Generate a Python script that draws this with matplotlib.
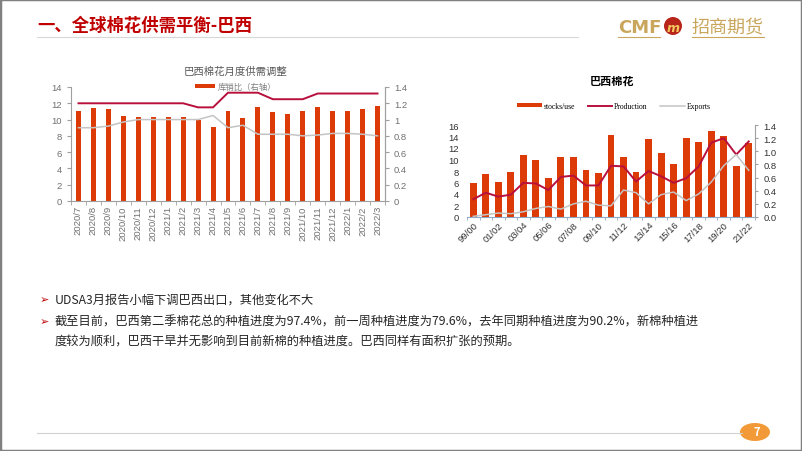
import matplotlib
matplotlib.use("Agg")
import matplotlib.pyplot as plt
from matplotlib.patches import Rectangle, Ellipse
from matplotlib.lines import Line2D
from matplotlib.ticker import FormatStrFormatter

plt.rcParams['font.family'] = ['Noto Sans CJK SC', 'DejaVu Sans']

# ---- left chart: monthly supply/demand adjustment
months = ['2020/7', '2020/8', '2020/9', '2020/10', '2020/11', '2020/12',
          '2021/1', '2021/2', '2021/3', '2021/4', '2021/5', '2021/6',
          '2021/7', '2021/8', '2021/9', '2021/10', '2021/11', '2021/12',
          '2022/1', '2022/2', '2022/3']
monthly_bars = [11.0, 11.4, 11.3, 10.5, 10.3, 10.3, 10.3, 10.3, 9.9, 9.1, 11.0,
                10.2, 11.5, 10.9, 10.7, 11.1, 11.5, 11.1, 11.1, 11.3, 11.7]
monthly_red = [1.2, 1.2, 1.2, 1.2, 1.2, 1.2, 1.2, 1.2, 1.15, 1.15, 1.33,
               1.33, 1.33, 1.25, 1.25, 1.25, 1.32, 1.32, 1.32, 1.32, 1.32]
monthly_gray = [0.9, 0.9, 0.92, 0.97, 1.0, 1.0, 1.0, 1.0, 1.0, 1.05, 0.9,
                0.93, 0.82, 0.82, 0.82, 0.8, 0.81, 0.83, 0.83, 0.82, 0.8]

# ---- right chart: seasonal history
seasons = ['99/00', '00/01', '01/02', '02/03', '03/04', '04/05', '05/06', '06/07',
           '07/08', '08/09', '09/10', '10/11', '11/12', '12/13', '13/14', '14/15',
           '15/16', '16/17', '17/18', '18/19', '19/20', '20/21', '21/22']
stocks_use = [5.9, 7.4, 6.1, 7.9, 10.7, 10.0, 6.8, 10.5, 10.4, 8.1, 7.65, 14.2,
              10.4, 7.8, 13.6, 11.1, 9.3, 13.7, 13.0, 14.9, 14.1, 8.9, 12.9]
production = [0.27, 0.37, 0.31, 0.34, 0.52, 0.51, 0.41, 0.61, 0.63, 0.48, 0.48, 0.78,
              0.77, 0.54, 0.70, 0.62, 0.52, 0.59, 0.77, 1.13, 1.20, 0.95, 1.15]
exports = [0.01, 0.035, 0.06, 0.05, 0.08, 0.13, 0.16, 0.12, 0.20, 0.24, 0.18, 0.17,
           0.41, 0.37, 0.20, 0.34, 0.38, 0.25, 0.35, 0.53, 0.78, 0.95, 0.71]

BAR = '#DC3A06'
RED = '#B8103C'
GRAY = '#C4C4C4'
W, H = 802, 452


def fx(x):
    return x / W


def fy(y):
    return 1 - y / H


fig = plt.figure(figsize=(8.02, 4.52), dpi=100)

# page frame
fig.patches.append(Rectangle((0, 0), 1, 1, transform=fig.transFigure, fill=False,
                             edgecolor='#808080', linewidth=2.5))

# header
fig.text(fx(37), fy(26), '一、全球棉花供需平衡-巴西', fontsize=12.5, fontweight='bold',
         color='#C00000', va='center', ha='left')
fig.add_artist(Line2D([fx(37), fx(578)], [fy(38), fy(38)], color='#D8D8D8', lw=0.8))
GOLD = '#C9A65C'
fig.text(fx(618), fy(28), 'CMF', fontsize=13, fontweight='bold', color=GOLD,
         va='center', ha='left', family='DejaVu Sans')
fig.patches.append(Ellipse((fx(673), fy(27)), 18 / W, 18 / H, transform=fig.transFigure,
                           facecolor='#B8261B', edgecolor='none'))
fig.text(fx(673), fy(28), 'm', fontsize=9, fontweight='bold', color='#F2C75C',
         va='center', ha='center', family='DejaVu Sans', style='italic')
fig.text(fx(692), fy(28), '招商期货', fontsize=13, color=GOLD, va='center', ha='left')
fig.add_artist(Line2D([fx(618), fx(660)], [fy(38), fy(38)], color=GOLD, lw=0.8))
fig.add_artist(Line2D([fx(692), fx(764)], [fy(38), fy(38)], color=GOLD, lw=0.8))

# ---------- left chart
ax1 = fig.add_axes([fx(71), fy(202), (385 - 71) / W, (202 - 88) / H])
x1 = list(range(len(months)))
ax1.bar(x1, monthly_bars, width=0.33, color=BAR, zorder=2)
ax1.set_xlim(-0.5, len(months) - 0.5)
ax1.set_ylim(0, 14)
ax1.set_yticks(range(0, 15, 2))
ax1.set_xticks(x1)
ax1.set_xticklabels(months, rotation=90, fontsize=6.8, color='#707070',
                    family=['Liberation Sans', 'DejaVu Sans'])
ax1.set_xticks([i - 0.5 for i in range(len(months) + 1)], minor=True)
ax1.tick_params(axis='x', which='major', length=0, pad=3)
ax1.tick_params(axis='x', which='minor', length=3, color='#A0A0A0')
ax1.tick_params(axis='y', labelsize=6.8, colors='#707070', length=3, color='#A0A0A0')
for lab in ax1.get_yticklabels():
    lab.set_family(['Liberation Sans', 'DejaVu Sans'])
ax1.spines['top'].set_visible(False)
for s in ['left', 'right', 'bottom']:
    ax1.spines[s].set_color('#A0A0A0')
    ax1.spines[s].set_linewidth(0.8)

ax1r = ax1.twinx()
ax1r.plot(x1, monthly_red, color=RED, lw=1.4, zorder=3)
ax1r.plot(x1, monthly_gray, color=GRAY, lw=1.1, zorder=3)
ax1r.set_ylim(0, 1.4)
ax1r.set_yticks([0, 0.2, 0.4, 0.6, 0.8, 1.0, 1.2, 1.4])
ax1r.yaxis.set_major_formatter(FormatStrFormatter('%g'))
ax1r.tick_params(axis='y', labelsize=6.8, colors='#707070', length=3, color='#A0A0A0')
for lab in ax1r.get_yticklabels():
    lab.set_family(['Liberation Sans', 'DejaVu Sans'])
for s in ['top', 'left', 'bottom']:
    ax1r.spines[s].set_visible(False)
ax1r.spines['right'].set_color('#A0A0A0')
ax1r.spines['right'].set_linewidth(0.8)

fig.text(fx(236), fy(72), '巴西棉花月度供需调整', fontsize=7.5, color='#595959',
         ha='center', va='center')
fig.patches.append(Rectangle((fx(195), fy(89)), 20 / W, 4 / H, transform=fig.transFigure,
                             facecolor=BAR, edgecolor='none'))
fig.text(fx(218), fy(87), '库销比（右轴）', fontsize=6, color='#7F7F7F',
         ha='left', va='center')

# ---------- right chart
ax2 = fig.add_axes([fx(467), fy(218), (755 - 467) / W, (218 - 126) / H])
x2 = list(range(len(seasons)))
ax2.bar(x2, stocks_use, width=0.55, color=BAR, zorder=2, label='stocks/use')
ax2.set_xlim(-0.5, len(seasons) - 0.5)
ax2.set_ylim(0, 16)
ax2.set_yticks(range(0, 17, 2))
ax2.set_xticks(x2[::2])
ax2.set_xticklabels(seasons[::2], rotation=45, ha='right', rotation_mode='anchor',
                    fontsize=6.8, color='#333333', family=['Liberation Sans', 'DejaVu Sans'])
ax2.set_xticks([i - 0.5 for i in range(len(seasons) + 1)], minor=True)
ax2.tick_params(axis='x', which='major', length=0, pad=2)
ax2.tick_params(axis='x', which='minor', length=2.5, color='#8EA9C8')
ax2.tick_params(axis='y', labelsize=6.8, colors='#333333', length=0, pad=6)
for lab in ax2.get_yticklabels():
    lab.set_family(['Liberation Sans', 'DejaVu Sans'])
for s in ['top', 'left', 'right']:
    ax2.spines[s].set_visible(False)
ax2.spines['bottom'].set_color('#8EA9C8')
ax2.spines['bottom'].set_linewidth(0.8)

ax2r = ax2.twinx()
ln1, = ax2r.plot(x2, production, color=RED, lw=1.4, zorder=3, label='Production')
ln2, = ax2r.plot(x2, exports, color=GRAY, lw=1.1, zorder=3, label='Exports')
ax2r.set_ylim(0, 1.4)
ax2r.set_yticks([0, 0.2, 0.4, 0.6, 0.8, 1.0, 1.2, 1.4])
ax2r.yaxis.set_major_formatter(FormatStrFormatter('%.1f'))
ax2r.tick_params(axis='y', labelsize=6.8, colors='#333333', length=2.5, color='#A0A0A0')
for lab in ax2r.get_yticklabels():
    lab.set_family(['Liberation Sans', 'DejaVu Sans'])
for s in ['top', 'left', 'bottom']:
    ax2r.spines[s].set_visible(False)
ax2r.spines['right'].set_color('#A0A0A0')
ax2r.spines['right'].set_linewidth(0.8)

fig.text(fx(612), fy(81), '巴西棉花', fontsize=8, fontweight='bold', color='#000000',
         ha='center', va='center')
handles = [ax2.patches[0], ln1, ln2]
fig.legend(handles, ['stocks/use', 'Production', 'Exports'], loc='center',
           bbox_to_anchor=(fx(614), fy(107)), ncol=3, frameon=False,
           prop={'family': 'Liberation Serif', 'size': 5.5}, handlelength=3.2,
           handleheight=0.5, columnspacing=1.6, handletextpad=0.3)

# ---------- bullet text
body = {'fontsize': 8.8, 'color': '#262626', 'va': 'center', 'ha': 'left'}
fig.text(fx(40), fy(300), '➢', fontsize=8, color='#C00000', va='center', ha='left',
         family=['DejaVu Sans'])
fig.text(fx(55), fy(300), 'UDSA3月报告小幅下调巴西出口，其他变化不大', **body)
fig.text(fx(40), fy(322), '➢', fontsize=8, color='#C00000', va='center', ha='left',
         family=['DejaVu Sans'])
fig.text(fx(55), fy(322), '截至目前，巴西第二季棉花总的种植进度为97.4%，前一周种植进度为79.6%，'
         '去年同期种植进度为90.2%，新棉种植进', **body)
fig.text(fx(55), fy(342), '度较为顺利，巴西干旱并无影响到目前新棉的种植进度。巴西同样有面积扩张的预期。',
         **body)

# ---------- footer
fig.add_artist(Line2D([fx(37), fx(742)], [fy(434), fy(434)], color='#D0D0D0', lw=0.8))
fig.patches.append(Ellipse((fx(755), fy(433)), 30 / W, 18 / H, transform=fig.transFigure,
                           facecolor='#F39A38', edgecolor='none'))
fig.text(fx(757), fy(433), '7', fontsize=8, fontweight='bold', color='white',
         ha='center', va='center')

fig.savefig('out.png', dpi=100)
